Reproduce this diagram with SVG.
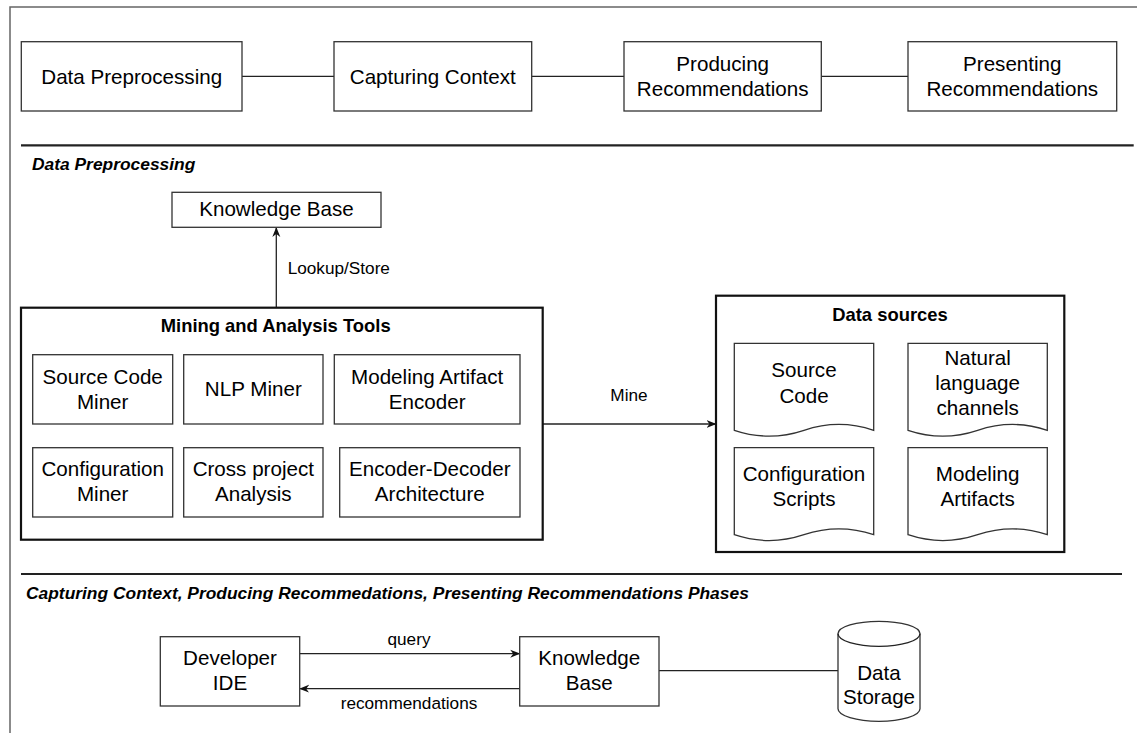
<svg xmlns="http://www.w3.org/2000/svg" width="1137" height="733" viewBox="0 0 1137 733">
<defs>
<style>
text{font-family:"Liberation Sans",Arial,sans-serif;fill:#000}
.t{font-size:20.6px;text-anchor:middle}
.l{font-size:17.2px}
.lc{font-size:17.2px;text-anchor:middle}
.h{font-size:18.4px;font-weight:bold;text-anchor:middle}
.s{font-size:17.4px;font-weight:bold;font-style:italic}
.b{fill:#fff;stroke:#333;stroke-width:1.3}
.bb{fill:#fff;stroke:#111;stroke-width:2.2}
.c{fill:none;stroke:#222;stroke-width:1.3}
.sep{stroke:#222;stroke-width:2.2}
.frame{stroke:#666;stroke-width:1.5;fill:none}
</style>
<marker id="ah" viewBox="0 0 10 10" refX="9" refY="5" markerWidth="10" markerHeight="10" markerUnits="userSpaceOnUse" orient="auto">
<path d="M0,1 L10,5 L0,9 L3,5 Z" fill="#111"/>
</marker>
</defs>
<rect width="1137" height="733" fill="#fff"/>
<path class="frame" d="M10,733 V7 H1137"/>
<line class="sep" x1="21" y1="145.3" x2="1133.7" y2="145.3"/>
<line class="sep" x1="21" y1="574" x2="1122" y2="574"/>
<text class="s" x="32" y="170">Data Preprocessing</text>
<text class="s" x="26" y="599">Capturing Context, Producing Recommedations, Presenting Recommendations Phases</text>

<g id="connectors">
<line class="c" x1="242" y1="76.3" x2="334" y2="76.3"/>
<line class="c" x1="531.7" y1="76.3" x2="624" y2="76.3"/>
<line class="c" x1="821.3" y1="76.3" x2="908" y2="76.3"/>
<line class="c" x1="276.3" y1="307.7" x2="276.3" y2="228" marker-end="url(#ah)"/>
<text class="l" x="287.7" y="274">Lookup/Store</text>
<line class="c" x1="542.7" y1="424" x2="715.5" y2="424" marker-end="url(#ah)"/>
<text class="lc" x="629" y="401.3">Mine</text>
<line class="c" x1="299.7" y1="653.7" x2="519.2" y2="653.7" marker-end="url(#ah)"/>
<text class="lc" x="409" y="644.7">query</text>
<line class="c" x1="519.7" y1="688.7" x2="300.2" y2="688.7" marker-end="url(#ah)"/>
<text class="lc" x="409" y="709">recommendations</text>
<line class="c" x1="659" y1="670.7" x2="838" y2="670.7"/>
</g>

<g id="top-data-preprocessing">
<rect class="b" x="21.3" y="41.7" width="220.7" height="69.3"/>
<text class="t" x="131.7" y="83.5">Data Preprocessing</text>
</g>
<g id="top-capturing-context">
<rect class="b" x="334" y="41.7" width="197.7" height="69.3"/>
<text class="t" x="432.8" y="83.5">Capturing Context</text>
</g>
<g id="top-producing">
<rect class="b" x="624" y="41.7" width="197.3" height="69.3"/>
<text class="t" x="722.7" y="70.5">Producing</text>
<text class="t" x="722.7" y="95.5">Recommendations</text>
</g>
<g id="top-presenting">
<rect class="b" x="908" y="41.7" width="208.7" height="69.3"/>
<text class="t" x="1012.3" y="70.5">Presenting</text>
<text class="t" x="1012.3" y="95.5">Recommendations</text>
</g>

<g id="knowledge-base-top">
<rect class="b" x="172" y="192.3" width="209" height="35"/>
<text class="t" x="276.5" y="215.7">Knowledge Base</text>
</g>

<g id="mining-tools">
<rect class="bb" x="21" y="307.7" width="521.7" height="232"/>
<text class="h" x="275.7" y="332">Mining and Analysis Tools</text>
</g>
<g id="source-code-miner">
<rect class="b" x="32.7" y="354.7" width="140" height="69.3"/>
<text class="t" x="102.7" y="383.7">Source Code</text>
<text class="t" x="102.7" y="409">Miner</text>
</g>
<g id="nlp-miner">
<rect class="b" x="183.7" y="354.7" width="139.3" height="69.3"/>
<text class="t" x="253.3" y="396.3">NLP Miner</text>
</g>
<g id="modeling-artifact-encoder">
<rect class="b" x="334.3" y="354.7" width="185.7" height="69.3"/>
<text class="t" x="427.2" y="383.7">Modeling Artifact</text>
<text class="t" x="427.2" y="409">Encoder</text>
</g>
<g id="configuration-miner">
<rect class="b" x="32.7" y="447.7" width="140" height="69.3"/>
<text class="t" x="102.7" y="476.3">Configuration</text>
<text class="t" x="102.7" y="501.3">Miner</text>
</g>
<g id="cross-project-analysis">
<rect class="b" x="183.7" y="447.7" width="139.3" height="69.3"/>
<text class="t" x="253.3" y="476.3">Cross project</text>
<text class="t" x="253.3" y="501.3">Analysis</text>
</g>
<g id="encoder-decoder">
<rect class="b" x="339.7" y="447.7" width="180.3" height="69.3"/>
<text class="t" x="429.8" y="476.3">Encoder-Decoder</text>
<text class="t" x="429.8" y="501.3">Architecture</text>
</g>

<g id="data-sources">
<rect class="bb" x="716" y="295.7" width="348.3" height="256.3"/>
<text class="h" x="890" y="320.7">Data sources</text>
</g>
<g id="doc-source-code">
<path class="b" d="M734.3,343.3 H873.7 V430.3 Q838.85,418.6 804,430.3 Q769.15,442 734.3,430.3 Z"/>
<text class="t" x="804" y="377">Source</text>
<text class="t" x="804" y="403">Code</text>
</g>
<g id="doc-natural-language">
<path class="b" d="M908,343.3 H1047.3 V430.3 Q1012.5,418.6 977.65,430.3 Q942.8,442 908,430.3 Z"/>
<text class="t" x="977.65" y="364.7">Natural</text>
<text class="t" x="977.65" y="389.7">language</text>
<text class="t" x="977.65" y="414.7">channels</text>
</g>
<g id="doc-configuration-scripts">
<path class="b" d="M734.3,447.7 H873.7 V534.7 Q838.85,523 804,534.7 Q769.15,546.4 734.3,534.7 Z"/>
<text class="t" x="804" y="481.3">Configuration</text>
<text class="t" x="804" y="506.3">Scripts</text>
</g>
<g id="doc-modeling-artifacts">
<path class="b" d="M908,447.7 H1047.3 V534.7 Q1012.5,523 977.65,534.7 Q942.8,546.4 908,534.7 Z"/>
<text class="t" x="977.65" y="481.3">Modeling</text>
<text class="t" x="977.65" y="506.3">Artifacts</text>
</g>

<g id="developer-ide">
<rect class="b" x="160.3" y="636.7" width="139.4" height="69.3"/>
<text class="t" x="230" y="664.7">Developer</text>
<text class="t" x="230" y="689.7">IDE</text>
</g>
<g id="knowledge-base-bottom">
<rect class="b" x="519.7" y="636.7" width="139.3" height="69.3"/>
<text class="t" x="589.3" y="664.7">Knowledge</text>
<text class="t" x="589.3" y="689.7">Base</text>
</g>
<g id="data-storage">
<path class="b" d="M838,633.8 A41,12.5 0 0 1 920,633.8 V708.8 A41,12.5 0 0 1 838,708.8 Z"/>
<path class="c" d="M838,633.8 A41,12.5 0 0 0 920,633.8"/>
<text class="t" x="879" y="679.7">Data</text>
<text class="t" x="879" y="703.5">Storage</text>
</g>
</svg>
